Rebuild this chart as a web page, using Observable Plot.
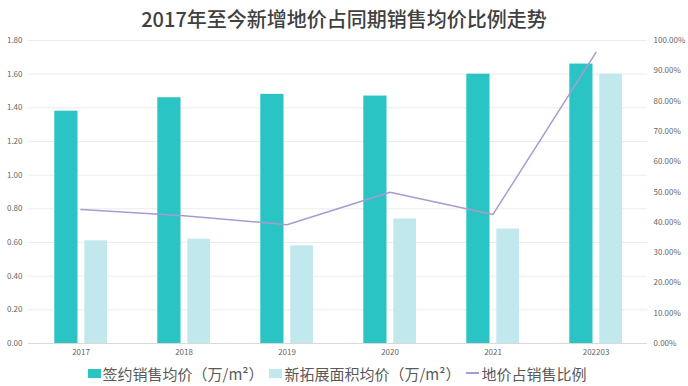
<!DOCTYPE html>
<html><head><meta charset="utf-8">
<script src="https://cdn.jsdelivr.net/npm/d3@7"></script>
<script src="https://cdn.jsdelivr.net/npm/@observablehq/plot@0.6"></script>
<style>
body{margin:0;background:#fff;font-family:"Noto Sans CJK SC","Noto Sans",sans-serif;width:688px;height:386px;overflow:hidden;}
#title{height:34px;line-height:37px;text-align:center;font-size:20px;font-weight:500;color:#404040;}
#chart svg{display:block;}
#legend{display:flex;justify-content:center;align-items:center;height:26px;font-size:15px;color:#595959;padding-right:14px;}
.item{display:flex;align-items:center;margin:0 3px;}
.sw{display:inline-block;width:13px;height:9px;margin-right:2px;}
.ln{display:inline-block;width:13px;height:2px;margin-right:2px;}
</style></head>
<body>
<div id="title">2017年至今新增地价占同期销售均价比例走势</div>
<div id="chart"></div>
<div id="legend"></div>
<script>
const years = ["2017","2018","2019","2020","2021","202203"];
const signedPrice = [1.38,1.46,1.48,1.47,1.60,1.66];
const newLandPrice = [0.61,0.62,0.58,0.74,0.68,1.60];
const landRatio = [0.442,0.422,0.392,0.499,0.426,0.961];
const leftTicks = [0,0.2,0.4,0.6,0.8,1.0,1.2,1.4,1.6,1.8];
const rightTicks = [0,0.1,0.2,0.3,0.4,0.5,0.6,0.7,0.8,0.9,1.0];
const seriesNames = ["签约销售均价（万/m²）","新拓展面积均价（万/m²）","地价占销售比例"];
const colors = ["#2bc4c4","#c1e8ec","#a99ad0"];
const yMax = 1.8;

const data = years.map((y,i)=>({year:y, signed:signedPrice[i], land:newLandPrice[i], ratio:landRatio[i]}));

const chart = Plot.plot({
  width:688, height:326, marginTop:6, marginBottom:17, marginLeft:28, marginRight:41,
  style:{fontFamily:'"Noto Sans CJK SC","Noto Sans",sans-serif', fontSize:"8px", color:"#666", background:"#fff"},
  x:{domain:years, padding:0, label:null, axis:null},
  y:{domain:[0,yMax], label:null, axis:null},
  marks:[
    Plot.ruleY(leftTicks, {stroke: d => d===0 ? "#d9d9d9" : "#ebebeb"}),
    Plot.barY(data,{x:"year", y:"signed", fill:colors[0], insetLeft:25.3, insetRight:54.5}),
    Plot.barY(data,{x:"year", y:"land", fill:colors[1], insetLeft:55.3, insetRight:25}),
    Plot.line(data,{x:"year", y:d=>d.ratio*yMax, stroke:colors[2], strokeWidth:1.5}),
    Plot.axisX({tickSize:0, tickPadding:6, label:null}),
    Plot.axisY(leftTicks,{anchor:"left", tickSize:0, tickPadding:6, tickFormat:d=>d.toFixed(2), label:null}),
    Plot.axisY(rightTicks.map(p=>p*yMax),{anchor:"right", tickSize:0, tickPadding:6, tickFormat:d=>(d/yMax*100).toFixed(2)+"%", label:null})
  ]
});
document.getElementById("chart").appendChild(chart);

const legend = document.getElementById("legend");
seriesNames.forEach((name,i)=>{
  const it = document.createElement("div"); it.className="item";
  const s = document.createElement("span"); s.className = i<2 ? "sw" : "ln"; s.style.background = colors[i];
  it.appendChild(s);
  const t = document.createElement("span"); t.textContent = name; it.appendChild(t);
  legend.appendChild(it);
});
</script>
</body></html>
